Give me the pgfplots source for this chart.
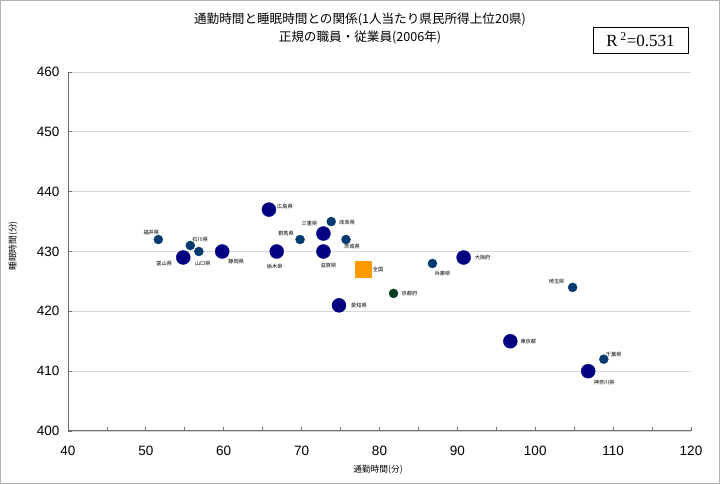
\documentclass[border=0pt]{standalone}
\usepackage{fontspec}
\setmainfont{Liberation Sans}
\newfontfamily\jp{Noto Sans CJK JP}
\newfontfamily\serif{Liberation Serif}
\usepackage{pgfplots}
\pgfplotsset{compat=1.18}
\definecolor{bignavy}{RGB}{0,0,128}
\definecolor{smallblue}{RGB}{0,58,110}
\definecolor{kyotogreen}{RGB}{0,64,32}
\definecolor{zenkoku}{RGB}{255,153,0}
\definecolor{axisgray}{RGB}{110,110,110}
\definecolor{gridgray}{RGB}{215,215,215}
\begin{document}
\begin{tikzpicture}[x=1pt,y=1pt]
\begin{axis}[
  scale only axis, width=623, height=359,
  xmin=40, xmax=120, ymin=400, ymax=460,
  xtick={40,50,...,120}, ytick={400,410,...,460},
  minor xtick={45,55,...,115},
  axis x line=bottom, axis y line=left,
  axis line style={axisgray, line width=1pt, -},
  tick style={axisgray, line width=0.8pt},
  tick align=inside, major tick length=4pt, minor tick length=4pt,
  ymajorgrids, grid style={gridgray, line width=0.8pt},
  /pgf/number format/assume math mode=true,
  ticklabel style={font=\fontsize{13.5}{15}\selectfont},
  xticklabel style={yshift=-12pt},
  yticklabel style={xshift=-5pt},
  clip=false,
]
\coordinate (O) at (axis cs:40,400);
\addplot[only marks, mark=*, mark size=7pt, mark options={draw=bignavy, fill=bignavy}] table {
x y
54.8 429
59.8 430
65.8 437
66.8 430
72.8 433
72.8 430
74.8 421
90.8 429
96.8 415
106.8 410
};
\addplot[only marks, mark=*, mark size=4.5pt, mark options={draw=smallblue, fill=smallblue}] table {
x y
51.6 432
55.7 431
56.8 430
69.8 432
73.8 435
75.7 432
86.8 428
104.8 424
108.8 412
};
\addplot[only marks, mark=*, mark size=4.5pt, mark options={draw=kyotogreen, fill=kyotogreen}] table {
x y
81.8 423
};
\addplot[only marks, mark=square*, mark size=8pt, mark options={draw=zenkoku, fill=zenkoku}] table {
x y
77.9 427
};
\tikzset{lbl/.style={font=\jp\fontsize{5.2}{6}\selectfont, inner sep=0pt}}
\node[lbl, xshift=-7pt, yshift=7pt] at (axis cs:51.6,432) {福井県};
\node[lbl, xshift=10pt, yshift=6pt] at (axis cs:55.7,431) {石川県};
\node[lbl, xshift=-19pt, yshift=-6pt] at (axis cs:54.8,429) {富山県};
\node[lbl, xshift=4pt, yshift=-12pt] at (axis cs:56.8,430) {山口県};
\node[lbl, xshift=14pt, yshift=-10pt] at (axis cs:59.8,430) {静岡県};
\node[lbl, xshift=-2pt, yshift=-15pt] at (axis cs:66.8,430) {栃木県};
\node[lbl, xshift=16pt, yshift=3pt] at (axis cs:65.8,437) {広島県};
\node[lbl, xshift=-14pt, yshift=10pt] at (axis cs:72.8,433) {三重県};
\node[lbl, xshift=16pt, yshift=-1pt] at (axis cs:73.8,435) {岐阜県};
\node[lbl, xshift=-14pt, yshift=6pt] at (axis cs:69.8,432) {群馬県};
\node[lbl, xshift=6pt, yshift=-7pt] at (axis cs:75.7,432) {茨城県};
\node[lbl, xshift=5pt, yshift=-14pt] at (axis cs:72.8,430) {滋賀県};
\node[lbl, xshift=15pt, yshift=0pt] at (axis cs:77.9,427) {全国};
\node[lbl, xshift=20pt, yshift=0pt] at (axis cs:74.8,421) {愛知県};
\node[lbl, xshift=16pt, yshift=0pt] at (axis cs:81.8,423) {京都府};
\node[lbl, xshift=10pt, yshift=-10pt] at (axis cs:86.8,428) {兵庫県};
\node[lbl, xshift=19pt, yshift=0pt] at (axis cs:90.8,429) {大阪府};
\node[lbl, xshift=-16pt, yshift=6pt] at (axis cs:104.8,424) {埼玉県};
\node[lbl, xshift=18pt, yshift=0pt] at (axis cs:96.8,415) {東京都};
\node[lbl, xshift=10pt, yshift=5pt] at (axis cs:108.8,412) {千葉県};
\node[lbl, xshift=16pt, yshift=-11pt] at (axis cs:106.8,410) {神奈川県};
\end{axis}
\begin{scope}[shift={(O)}, x=1pt, y=1pt]
\pgfresetboundingbox
\path[use as bounding box] (-68,-53) rectangle (652,431);
\draw[gray!60, line width=0.8pt] (-67.6,-52.6) rectangle (651.6,430.6);
\node[font=\jp\fontsize{12.6}{14}\selectfont] at (292,412) {通勤時間と睡眠時間との関係(1人当たり県民所得上位20県)};
\node[font=\jp\fontsize{12.6}{14}\selectfont] at (292,394) {正規の職員・従業員(2006年)};
\draw[black, line width=0.7pt] (525,378) rectangle (620,404);
\node[font=\serif\fontsize{17}{19}\selectfont] at (572.5,391) {R\,\textsuperscript{2}=0.531};
\node[font=\jp\fontsize{8.7}{9}\selectfont, rotate=90] at (-55,185) {睡眠時間(分)};
\node[font=\jp\fontsize{8.7}{9}\selectfont] at (310,-39) {通勤時間(分)};
\end{scope}
\end{tikzpicture}
\end{document}
